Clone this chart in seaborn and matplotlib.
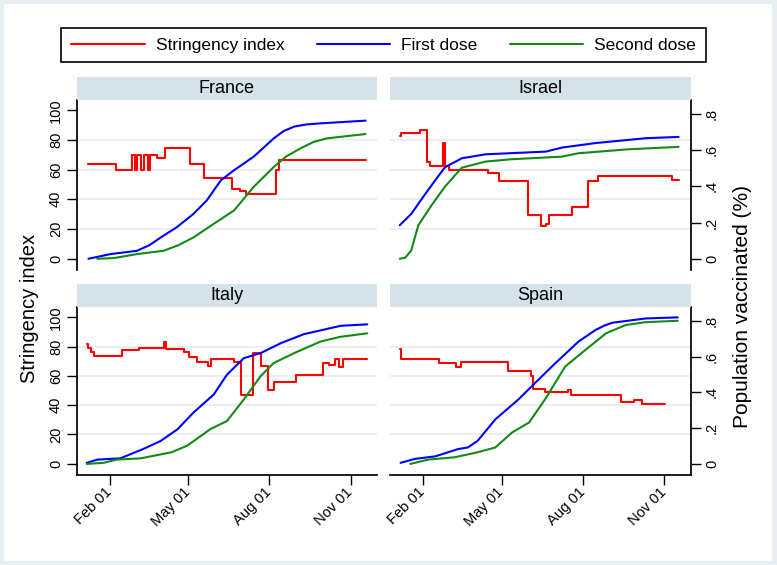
import pandas as pd
import matplotlib
matplotlib.use('Agg')
import matplotlib.pyplot as plt
from matplotlib.lines import Line2D
from matplotlib.patches import Rectangle
import seaborn as sns

# Stringency index (step changes)
fr_si_dates = ["2021-01-08", "2021-02-08", "2021-02-26", "2021-03-02", "2021-03-04", "2021-03-09",
               "2021-03-12", "2021-03-16", "2021-03-19", "2021-03-27", "2021-04-05", "2021-05-03",
               "2021-05-19", "2021-06-20", "2021-06-29", "2021-07-05", "2021-08-08", "2021-08-12",
               "2021-11-18"]
fr_si = [63.5, 59.9, 70, 59.9, 70, 59.9, 70, 59.9, 70, 67.8, 74.5, 63.5,
         54.2, 47, 45.6, 43.6, 60, 66.4, 66.4]

il_si_dates = ["2021-01-06", "2021-01-07", "2021-01-29", "2021-02-06", "2021-02-09", "2021-02-24",
               "2021-02-26", "2021-03-03", "2021-04-16", "2021-04-28", "2021-05-31", "2021-06-14",
               "2021-06-20", "2021-06-24", "2021-07-20", "2021-08-07", "2021-08-18", "2021-11-10",
               "2021-11-17"]
il_si = [82.4, 84.7, 86.5, 65.4, 62.5, 78.3, 62.5, 59.8, 58.0, 52.6, 29.3, 21.9,
         23.2, 29.3, 35.0, 52.6, 55.8, 53.0, 53.0]

it_si_dates = ["2021-01-06", "2021-01-08", "2021-01-11", "2021-01-14", "2021-02-15", "2021-03-06",
               "2021-04-04", "2021-04-06", "2021-04-26", "2021-05-02", "2021-05-11", "2021-05-24",
               "2021-05-27", "2021-06-22", "2021-06-30", "2021-07-13", "2021-07-22", "2021-07-30",
               "2021-08-06", "2021-08-31", "2021-10-01", "2021-10-08", "2021-10-14", "2021-10-19",
               "2021-10-24", "2021-11-20"]
it_si = [81.6, 78.7, 76.5, 73.7, 77.5, 79.3, 83.2, 78.2, 76.0, 73.1, 69.7, 66.8,
         71.3, 69.7, 46.8, 75.3, 67.0, 50.1, 55.5, 60.7, 69.0, 67.4, 71.3, 66.3,
         71.3, 71.3]

es_si_dates = ["2021-01-06", "2021-01-07", "2021-02-19", "2021-03-11", "2021-03-16", "2021-05-08",
               "2021-06-03", "2021-06-06", "2021-06-19", "2021-07-15", "2021-07-18", "2021-09-13",
               "2021-09-28", "2021-10-07", "2021-11-02"]
es_si = [78.0, 71.3, 68.6, 66.3, 69.2, 63.4, 60.0, 51.0, 48.8, 50.6, 47.2, 42.0,
         43.8, 40.9, 40.9]

# Share of population vaccinated
fr_d1_dates = ["2021-01-08", "2021-02-02", "2021-03-04", "2021-03-18", "2021-03-31", "2021-04-18",
               "2021-05-07", "2021-05-22", "2021-06-07", "2021-06-22", "2021-07-14", "2021-08-06",
               "2021-08-17", "2021-08-29", "2021-09-12", "2021-09-28", "2021-11-18"]
fr_d1 = [0.0, 0.026, 0.044, 0.075, 0.118, 0.174, 0.248, 0.322, 0.433, 0.489, 0.563, 0.665,
         0.705, 0.73, 0.742, 0.748, 0.763]
fr_d2_dates = ["2021-01-18", "2021-02-06", "2021-03-04", "2021-04-03", "2021-04-20", "2021-05-07",
               "2021-05-30", "2021-06-22", "2021-07-14", "2021-08-06", "2021-08-20", "2021-09-05",
               "2021-09-20", "2021-10-05", "2021-11-18"]
fr_d2 = [0.0, 0.004, 0.026, 0.044, 0.075, 0.118, 0.193, 0.267, 0.396, 0.507, 0.565, 0.609,
         0.645, 0.665, 0.689]

il_d1_dates = ["2021-01-06", "2021-01-19", "2021-02-04", "2021-02-15", "2021-02-26", "2021-03-17",
               "2021-04-13", "2021-06-20", "2021-07-08", "2021-08-15", "2021-10-11", "2021-11-17"]
il_d1 = [0.185, 0.248, 0.359, 0.433, 0.505, 0.555, 0.577, 0.592, 0.614, 0.639, 0.666, 0.673]
il_d2_dates = ["2021-01-06", "2021-01-12", "2021-01-19", "2021-01-27", "2021-02-11", "2021-02-26",
               "2021-03-17", "2021-04-13", "2021-05-13", "2021-07-08", "2021-07-27", "2021-09-22",
               "2021-11-17"]
il_d2 = [0.0, 0.005, 0.046, 0.185, 0.296, 0.398, 0.503, 0.537, 0.55, 0.564, 0.583, 0.605, 0.618]

it_d1_dates = ["2021-01-06", "2021-01-18", "2021-02-13", "2021-03-11", "2021-03-31", "2021-04-19",
               "2021-05-07", "2021-05-30", "2021-06-14", "2021-07-03", "2021-07-22", "2021-08-14",
               "2021-09-09", "2021-10-21", "2021-11-20"]
it_d1 = [0.006, 0.024, 0.031, 0.083, 0.129, 0.194, 0.287, 0.388, 0.499, 0.591, 0.619, 0.675,
         0.725, 0.772, 0.78]
it_d2_dates = ["2021-01-06", "2021-01-25", "2021-02-09", "2021-03-08", "2021-04-12", "2021-04-30",
               "2021-05-26", "2021-06-14", "2021-07-03", "2021-07-22", "2021-08-06", "2021-08-29",
               "2021-09-28", "2021-10-20", "2021-11-20"]
it_d2 = [0.0, 0.006, 0.024, 0.031, 0.065, 0.102, 0.194, 0.24, 0.36, 0.49, 0.564, 0.619, 0.684,
         0.71, 0.73]

es_d1_dates = ["2021-01-07", "2021-01-23", "2021-02-15", "2021-03-13", "2021-03-24", "2021-04-04",
               "2021-04-24", "2021-05-20", "2021-06-08", "2021-07-01", "2021-07-27", "2021-08-15",
               "2021-08-25", "2021-09-03", "2021-10-11", "2021-11-16"]
es_d1 = [0.006, 0.028, 0.042, 0.083, 0.092, 0.129, 0.249, 0.36, 0.453, 0.564, 0.684, 0.748,
         0.773, 0.789, 0.813, 0.819]
es_d2_dates = ["2021-01-18", "2021-02-07", "2021-03-09", "2021-04-04", "2021-04-24", "2021-05-13",
               "2021-06-01", "2021-06-19", "2021-07-12", "2021-08-04", "2021-08-27", "2021-09-18",
               "2021-10-10", "2021-11-16"]
es_d2 = [0.0, 0.024, 0.037, 0.065, 0.092, 0.176, 0.231, 0.36, 0.545, 0.638, 0.73, 0.776,
         0.792, 0.8]

countries = ["France", "Israel", "Italy", "Spain"]
x_ticks = ["2021-02-01", "2021-05-01", "2021-08-01", "2021-11-01"]
x_ticklabels = ["Feb 01", "May 01", "Aug 01", "Nov 01"]
si_ticks = [0, 20, 40, 60, 80, 100]
vax_ticks = [0, 0.2, 0.4, 0.6, 0.8]
vax_ticklabels = ["0", ".2", ".4", ".6", ".8"]
legend_labels = ["Stringency index", "First dose", "Second dose"]

series = {
    "France": (fr_si_dates, fr_si, fr_d1_dates, fr_d1, fr_d2_dates, fr_d2),
    "Israel": (il_si_dates, il_si, il_d1_dates, il_d1, il_d2_dates, il_d2),
    "Italy": (it_si_dates, it_si, it_d1_dates, it_d1, it_d2_dates, it_d2),
    "Spain": (es_si_dates, es_si, es_d1_dates, es_d1, es_d2_dates, es_d2),
}

RED, BLUE, GREEN = "#ff0000", "#0000ff", "#138a13"
STRIP = "#d6e2e9"
GRID = "#e3ebef"

sns.set_theme(style="white")
plt.rcParams['font.family'] = ['Liberation Sans', 'DejaVu Sans']

W, H = 777, 565
fig = plt.figure(figsize=(W / 100, H / 100), dpi=100, facecolor="#e8eff2")
fig.patches.append(Rectangle((4 / W, 4 / H), 768 / W, 557 / H, transform=fig.transFigure,
                             facecolor="white", edgecolor="none", zorder=-10))


def box(x0, y0, x1, y1):
    return [x0 / W, 1 - y1 / H, (x1 - x0) / W, (y1 - y0) / H]


# pixel boxes of the four plot regions: (x0, y0, x1, y1)
layout = {
    "France": (77, 100, 377, 270),
    "Israel": (390, 100, 691, 270),
    "Italy": (77, 307, 377, 475),
    "Spain": (390, 307, 691, 475),
}

xlim = (pd.Timestamp("2020-12-26"), pd.Timestamp("2021-12-01"))

for i, name in enumerate(countries):
    x0, y0, x1, y1 = layout[name]
    left_col = i % 2 == 0
    bottom_row = i >= 2
    si_d, si_v, d1_d, d1_v, d2_d, d2_v = series[name]

    # strip with the country name
    fig.patches.append(Rectangle((x0 / W, 1 - y0 / H), (x1 - x0) / W, 23 / H,
                                 transform=fig.transFigure, facecolor=STRIP, edgecolor="none"))
    fig.text((x0 + x1) / 2 / W, 1 - (y0 - 11.5) / H, name, ha="center", va="center",
             fontsize=13, color="black")

    ax = fig.add_axes(box(x0, y0, x1, y1))
    ax.set_facecolor("white")
    for v in [20, 40, 60, 80]:
        ax.axhline(v, color=GRID, lw=1.1, zorder=0)
    sns.lineplot(x=pd.to_datetime(si_d), y=si_v, ax=ax, color=RED, lw=1.5,
                 drawstyle="steps-post", estimator=None)
    ax.set_ylim(-7.7, 107)

    axr = ax.twinx()
    sns.lineplot(x=pd.to_datetime(d1_d), y=d1_v, ax=axr, color=BLUE, lw=1.5, estimator=None)
    sns.lineplot(x=pd.to_datetime(d2_d), y=d2_v, ax=axr, color=GREEN, lw=1.5, estimator=None)
    axr.set_ylim(-0.062, 0.877)
    ax.set_xlim(*xlim)
    axr.set_xlim(*xlim)
    ax.set_xlabel("")
    ax.set_ylabel("")
    axr.set_ylabel("")

    for s in ["top", "right"]:
        ax.spines[s].set_visible(False)
    for s in ["top", "left", "bottom"]:
        axr.spines[s].set_visible(False)

    # left axis (stringency) only on left column
    ax.spines["left"].set_visible(left_col)
    ax.spines["left"].set_color("black")
    ax.set_yticks(si_ticks)
    if left_col:
        ax.tick_params(axis="y", left=True, length=7, width=1, color="black", direction="out",
                       labelsize=10.5, labelrotation=90, pad=3, labelcolor="black")
        for lbl in ax.get_yticklabels():
            lbl.set_va("center")
    else:
        ax.tick_params(axis="y", left=False, labelleft=False)

    # right axis (vaccinated) only on right column
    axr.spines["right"].set_visible(not left_col)
    axr.spines["right"].set_color("black")
    axr.set_yticks(vax_ticks)
    axr.set_yticklabels(vax_ticklabels)
    if not left_col:
        axr.tick_params(axis="y", right=True, length=7, width=1, color="black", direction="out",
                        labelsize=10.5, labelrotation=90, pad=3, labelcolor="black")
        for lbl in axr.get_yticklabels():
            lbl.set_va("center")
    else:
        axr.tick_params(axis="y", right=False, labelright=False)

    # date axis only on the bottom row
    ax.spines["bottom"].set_visible(bottom_row)
    ax.spines["bottom"].set_color("black")
    ax.set_xticks(pd.to_datetime(x_ticks))
    if bottom_row:
        ax.set_xticklabels(x_ticklabels)
        ax.tick_params(axis="x", bottom=True, length=7, width=1, color="black", direction="out",
                       labelsize=10.5, pad=4, labelcolor="black")
        for lbl in ax.get_xticklabels():
            lbl.set_rotation(45)
            lbl.set_ha("right")
            lbl.set_va("center")
            lbl.set_rotation_mode("anchor")
    else:
        ax.tick_params(axis="x", bottom=False, labelbottom=False)
    axr.tick_params(axis="x", bottom=False, labelbottom=False)

fig.text(30 / W, 1 - 308 / H, "Stringency index", rotation=90, ha="center", va="center",
         fontsize=14.5, color="black")
fig.text(742 / W, 1 - 306 / H, "Population vaccinated (%)", rotation=90, ha="center",
         va="center", fontsize=15, color="black")

handles = [Line2D([], [], color=c, lw=1.5) for c in (RED, BLUE, GREEN)]
leg = fig.legend(handles, legend_labels, loc="center", bbox_to_anchor=(383.5 / W, 1 - 45 / H),
                 ncol=3, frameon=True, fancybox=False, edgecolor="black", framealpha=1,
                 fontsize=12.5, handlelength=4.25, handletextpad=0.63, columnspacing=1.85,
                 borderpad=0.55)
leg.get_frame().set_linewidth(1.2)
for t in leg.get_texts():
    t.set_color("black")

fig.savefig("out.png", dpi=100, facecolor=fig.get_facecolor())
